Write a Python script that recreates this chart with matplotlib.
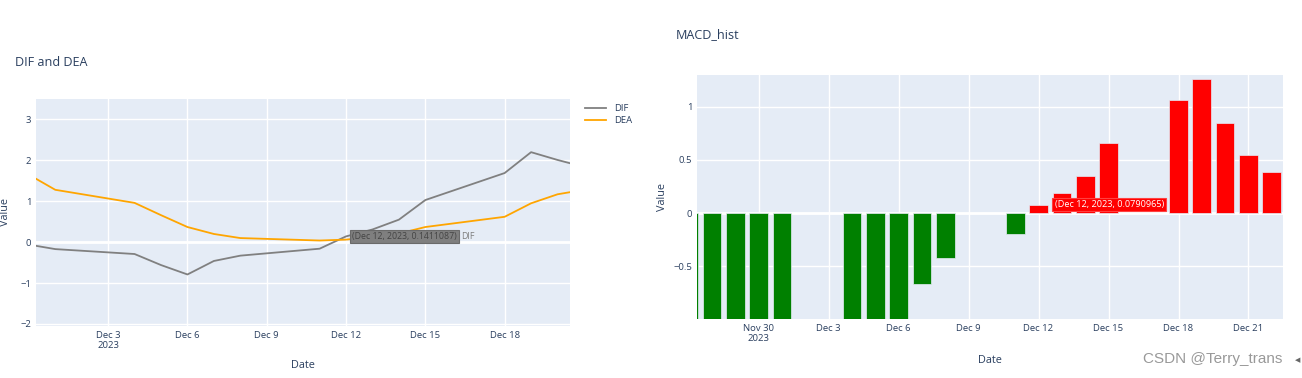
import matplotlib
matplotlib.use('Agg')
import matplotlib.pyplot as plt
import matplotlib.dates as mdates
import pandas as pd

plt.rcParams['font.family'] = ['Open Sans', 'DejaVu Sans']

# DIF / DEA lines
line_dates = pd.to_datetime(['2023-11-30', '2023-12-01', '2023-12-04', '2023-12-05', '2023-12-06',
                             '2023-12-07', '2023-12-08', '2023-12-11', '2023-12-12', '2023-12-13',
                             '2023-12-14', '2023-12-15', '2023-12-18', '2023-12-19', '2023-12-20',
                             '2023-12-21'])
dif = [-0.06, -0.17, -0.29, -0.56, -0.79, -0.46, -0.33, -0.16, 0.1411087, 0.31,
       0.55, 1.03, 1.69, 2.20, 2.01, 1.84]
dea = [1.65, 1.28, 0.96, 0.66, 0.37, 0.20, 0.10, 0.04, 0.062, 0.13,
       0.21, 0.37, 0.62, 0.95, 1.17, 1.28]

# MACD histogram
hist_dates = pd.to_datetime(['2023-11-27', '2023-11-28', '2023-11-29', '2023-11-30', '2023-12-01',
                             '2023-12-04', '2023-12-05', '2023-12-06', '2023-12-07', '2023-12-08',
                             '2023-12-11', '2023-12-12', '2023-12-13', '2023-12-14', '2023-12-15',
                             '2023-12-18', '2023-12-19', '2023-12-20', '2023-12-21', '2023-12-22'])
hist = [-1.90, -1.95, -1.85, -1.71, -1.45, -1.25, -1.22, -1.16, -0.67, -0.42,
        -0.20, 0.0790965, 0.184, 0.35, 0.656, 1.062, 1.256, 0.849, 0.549, 0.39]

BG = '#E5ECF6'
TXT = '#2a3f5f'

fig = plt.figure(figsize=(13.02, 3.78), dpi=100)
ax1 = fig.add_axes([36 / 1302, 52 / 378, 534 / 1302, 227 / 378])
ax2 = fig.add_axes([697 / 1302, 59 / 378, 586 / 1302, 244 / 378])


def style(ax):
    ax.set_facecolor(BG)
    for s in ax.spines.values():
        s.set_visible(False)
    ax.grid(True, color='white', linewidth=1)
    ax.set_axisbelow(True)
    ax.tick_params(length=0, labelsize=6.8, labelcolor=TXT, pad=3.5)
    ax.axhline(0, color='white', linewidth=2, zorder=1)


def date_fmt(first):
    def f(x, pos):
        d = mdates.num2date(x)
        s = d.strftime('%b ') + str(d.day)
        if d.date() == first:
            s += '\n2023'
        return s
    return f


# left: DIF and DEA
style(ax1)
ax1.plot(line_dates, dif, color='grey', linewidth=1.3, label='DIF', zorder=3)
ax1.plot(line_dates, dea, color='orange', linewidth=1.3, label='DEA', zorder=3)
ax1.set_xlim(pd.Timestamp('2023-11-30 06:30'), pd.Timestamp('2023-12-20 11:20'))
ax1.set_ylim(-2.05, 3.5)
ax1.set_yticks([-2, -1, 0, 1, 2, 3])
t1 = pd.date_range('2023-12-03', '2023-12-18', freq='3D')
ax1.set_xticks(t1)
ax1.xaxis.set_major_formatter(plt.FuncFormatter(date_fmt(t1[0].date())))
ax1.set_xlabel('Date', fontsize=7.8, color=TXT)
ax1.set_ylabel('Value', fontsize=7.8, color=TXT)
ax1.xaxis.set_label_coords(0.5, -0.15)
ax1.yaxis.set_label_coords(-0.0475, 0.5)
ax1.legend(loc='upper left', bbox_to_anchor=(1.013, 1.015), frameon=False, fontsize=6.8,
           handlelength=2.2, labelspacing=0.35, labelcolor=TXT)

# hover label on DIF
ax1.annotate('(Dec 12, 2023, 0.1411087)', xy=(line_dates[8], dif[8]), xytext=(6, 0),
             textcoords='offset pixels', ha='left', va='center', fontsize=6.3, color='#444444',
             bbox=dict(boxstyle='square,pad=0.25', fc='#7f7f7f', ec='#6a6a6a', lw=0.8), zorder=5)
ax1.annotate('DIF', xy=(line_dates[8], dif[8]), xytext=(115, 0),
             textcoords='offset pixels', ha='left', va='center', fontsize=6.4, color='#7f7f7f',
             zorder=5)

# right: MACD_hist
style(ax2)
colors = ['red' if v >= 0 else 'green' for v in hist]
ax2.bar(hist_dates, hist, width=0.8, color=colors, edgecolor=BG, linewidth=0.5, zorder=3)
ax2.set_xlim(pd.Timestamp('2023-11-27 08:40'), pd.Timestamp('2023-12-22 11:30'))
ax2.set_ylim(-0.994, 1.296)
ax2.set_yticks([-0.5, 0, 0.5, 1])
ax2.yaxis.set_major_formatter(plt.FuncFormatter(lambda v, p: ('%g' % v).replace('-', '\u2212')))
t2 = pd.date_range('2023-11-30', '2023-12-21', freq='3D')
ax2.set_xticks(t2)
ax2.xaxis.set_major_formatter(plt.FuncFormatter(date_fmt(t2[0].date())))
ax2.set_xlabel('Date', fontsize=7.8, color=TXT)
ax2.set_ylabel('Value', fontsize=7.8, color=TXT)
ax2.xaxis.set_label_coords(0.5, -0.148)
ax2.yaxis.set_label_coords(-0.049, 0.5)

ax2.annotate('(Dec 12, 2023, 0.0790965)', xy=(hist_dates[11], hist[11]), xytext=(16, 0),
             textcoords='offset pixels', ha='left', va='center', fontsize=6.6, color='white',
             bbox=dict(boxstyle='square,pad=0.25', fc='red', ec='#ff4040', lw=0.8), zorder=5)

fig.text(15 / 1302, 1 - 62 / 378, 'DIF and DEA', fontsize=9.1, color=TXT, ha='left', va='center')
fig.text(676 / 1302, 1 - 35 / 378, 'MACD_hist', fontsize=9.1, color=TXT, ha='left', va='center')
fig.text(1143 / 1302, 1 - 359 / 378, 'CSDN @Terry_trans', fontsize=11, color='#999999',
         ha='left', va='center', family=['Liberation Sans', 'DejaVu Sans'])
fig.text(1298 / 1302, 1 - 360 / 378, '\u25c0', fontsize=5, color='#666666', ha='center', va='center',
         family=['DejaVu Sans'])

fig.savefig('out.png', dpi=100)
